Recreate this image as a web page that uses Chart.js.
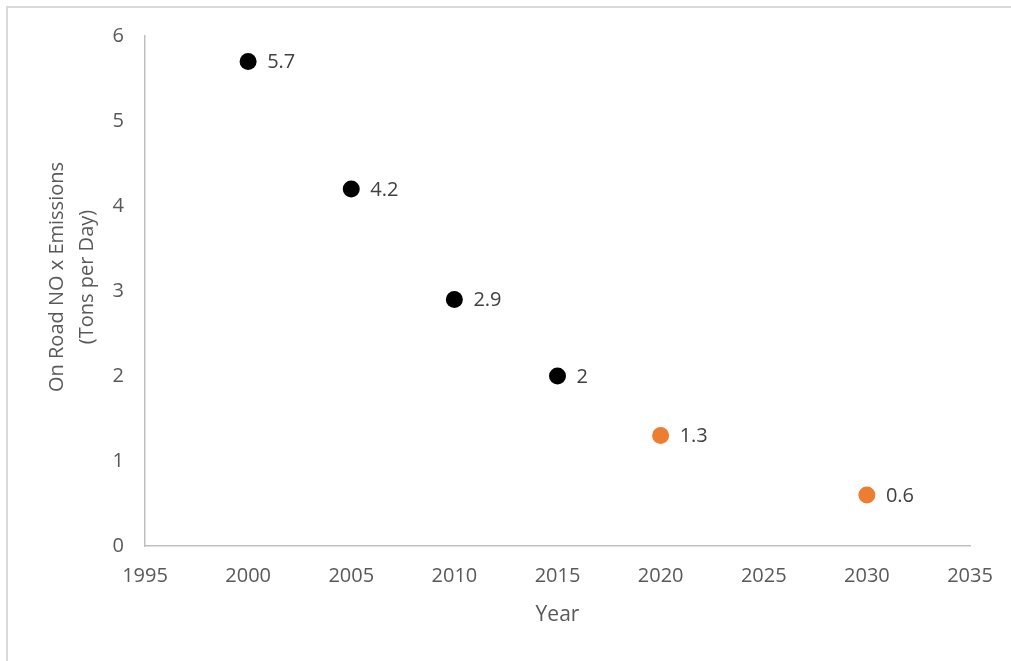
<!DOCTYPE html>
<html>
<head>
<meta charset="utf-8">
<title>On Road NOx Emissions</title>
<script src="https://cdn.jsdelivr.net/npm/chart.js@4.4.1/dist/chart.umd.min.js"></script>
<style>
  html, body { margin: 0; padding: 0; background: #fff; overflow: hidden; }
  #frame {
    position: absolute; left: 6px; top: 6px; width: 1100px; height: 700px;
    border-left: 2px solid #d9d9d9; border-top: 2px solid #d9d9d9;
  }
  #wrap { position: absolute; left: 0; top: 0; width: 1011px; height: 661px; }
</style>
</head>
<body>
<div id="frame"></div>
<div id="wrap"><canvas id="chart" width="1011" height="661"></canvas></div>
<script>
// measured years (black) and projected years (orange)
const histYears = [2000, 2005, 2010, 2015];
const histValues = [5.7, 4.2, 2.9, 2];
const projYears = [2020, 2030];
const projValues = [1.3, 0.6];

const xMin = 1995, xMax = 2035, xStep = 5;
const yMin = 0, yMax = 6, yStep = 1;

const xTitle = 'Year';
const yTitle = ['On Road NO x Emissions', '(Tons per Day)'];

const FONT = '"Open Sans", "Noto Sans", sans-serif';
const GREY = '#595959';

const toPoints = (xs, ys) => xs.map((x, i) => ({ x, y: ys[i] }));

// value labels to the right of each point + the rotated y title
const extraText = {
  id: 'extraText',
  afterDatasetsDraw(chart) {
    const ctx = chart.ctx;
    ctx.save();
    ctx.font = '20px ' + FONT;
    ctx.fillStyle = '#404040';
    ctx.textAlign = 'left';
    ctx.textBaseline = 'middle';
    chart.data.datasets.forEach((ds, di) => {
      chart.getDatasetMeta(di).data.forEach((pt, i) => {
        ctx.fillText(String(ds.data[i].y), pt.x + 19, pt.y + 1);
      });
    });
    ctx.restore();

    // y title sits a little above the plot centre, like the original
    ctx.save();
    ctx.font = '20px ' + FONT;
    ctx.fillStyle = GREY;
    ctx.textAlign = 'center';
    ctx.textBaseline = 'middle';
    ctx.translate(57, 277);
    ctx.rotate(-Math.PI / 2);
    yTitle.forEach((line, i) => ctx.fillText(line, 0, i * 30));
    ctx.restore();
  }
};

new Chart(document.getElementById('chart'), {
  type: 'scatter',
  data: {
    datasets: [
      {
        label: 'Historical',
        data: toPoints(histYears, histValues),
        backgroundColor: '#000000',
        borderWidth: 0,
        pointRadius: 8.5,
        pointHoverRadius: 8.5
      },
      {
        label: 'Projected',
        data: toPoints(projYears, projValues),
        backgroundColor: '#ed7d31',
        borderWidth: 0,
        pointRadius: 8.5,
        pointHoverRadius: 8.5
      }
    ]
  },
  options: {
    responsive: false,
    animation: false,
    events: [],
    layout: { padding: { top: 36, right: 41, left: 0, bottom: 0 } },
    plugins: { legend: { display: false }, tooltip: { enabled: false } },
    scales: {
      x: {
        type: 'linear',
        min: xMin, max: xMax,
        afterFit: s => { s.height = 115; },
        grid: { display: true, drawOnChartArea: false, drawTicks: false },
        border: { color: '#bfbfbf', width: 1.5 },
        ticks: {
          stepSize: xStep, padding: 18, color: GREY,
          font: { family: FONT, size: 20 },
          callback: v => String(v)
        },
        title: {
          display: true, text: xTitle, color: GREY,
          font: { family: FONT, size: 21 },
          padding: { top: 0, bottom: 33 }
        }
      },
      y: {
        type: 'linear',
        min: yMin, max: yMax,
        afterFit: s => { s.width = 145; },
        grid: { display: true, drawOnChartArea: false, drawTicks: false },
        border: { color: '#bfbfbf', width: 1.5 },
        ticks: {
          stepSize: yStep, padding: 21, color: GREY,
          font: { family: FONT, size: 20 },
          callback: v => String(v)
        }
      }
    }
  },
  plugins: [extraText]
});
</script>
</body>
</html>
